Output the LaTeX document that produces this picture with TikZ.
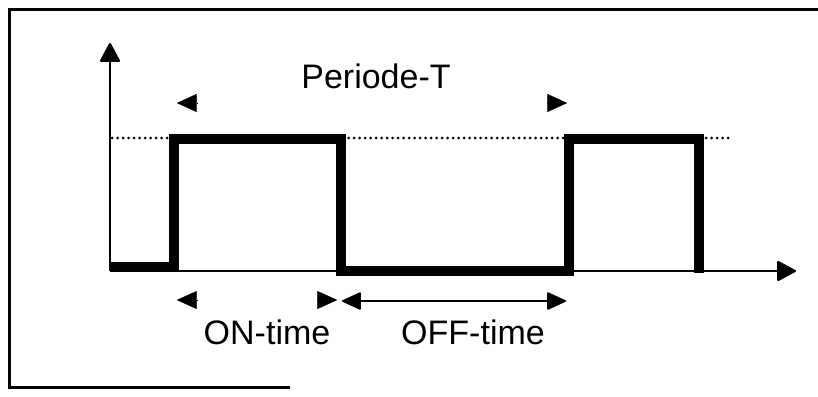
\documentclass[tikz,border=0pt]{standalone}
\usepackage{fontspec}
\setmainfont{Liberation Sans}
\usetikzlibrary{arrows.meta}
\begin{document}
\begin{tikzpicture}[x=1pt,y=-1pt,
  tipend/.style={-{Triangle[length=20pt,width=18pt,round]}},
  both/.style={line width=1.6pt,{Triangle[length=20pt,width=18pt,round]}-{Triangle[length=20pt,width=18pt,round]}},
  lbl/.style={font=\fontsize{34}{40}\selectfont, inner sep=0pt, anchor=base},
  signal/.style={line width=10.5pt, line join=miter},
  axis/.style={line width=2pt, -{Triangle[length=20pt,width=21pt,round]}},
  guide/.style={line width=3pt, line cap=round, dash pattern=on 0pt off 5.5pt},
  frame/.style={line width=3pt}
  ]
\useasboundingbox (0,0) rectangle (818,396);
% frame
\coordinate (fTR) at (818,10);
\coordinate (fTL) at (9,10);
\coordinate (fBL) at (9,387);
\coordinate (fBR) at (290,387);
\draw[frame] (fTR) -- (fTL) -- (fBL) -- (fBR);
% axes
\coordinate (O) at (110,271);
\coordinate (Ytip) at (110,43);
\coordinate (Xtip) at (796,271);
\draw[axis] (O) -- (Ytip);
\draw[axis] (O) -- (Xtip);
% dotted high level
\coordinate (d1) at (112,138);
\coordinate (d2) at (730,138);
\draw[guide] (d1) -- (d2);
% signal
\coordinate (s0) at (110,267);
\coordinate (s1) at (174,267);
\coordinate (s2) at (174,139);
\coordinate (s3) at (341,139);
\coordinate (s4) at (341,271);
\coordinate (s5) at (569,271);
\coordinate (s6) at (569,139);
\coordinate (s7) at (699,139);
\coordinate (s8) at (699,273);
\draw[signal] (s0) -- (s1) -- (s2) -- (s3) -- (s4) -- (s5) -- (s6) -- (s7) -- (s8);
% period markers
\coordinate (pLa) at (197,103);
\coordinate (pLb) at (177,103);
\coordinate (pRa) at (547,103);
\coordinate (pRb) at (567,103);
\draw[tipend] (pLa) -- (pLb);
\draw[tipend] (pRa) -- (pRb);
% ON-time markers
\coordinate (oLa) at (197,300);
\coordinate (oLb) at (177,300);
\coordinate (oRa) at (317,300);
\coordinate (oRb) at (337,300);
\draw[tipend] (oLa) -- (oLb);
\draw[tipend] (oRa) -- (oRb);
% OFF-time arrow
\coordinate (fL) at (342,301);
\coordinate (fR) at (566,301);
\draw[both] (fL) -- (fR);
% labels
\node[lbl] (period) at (376,88) {Periode-T};
\node[lbl] (on) at (267,344) {ON-time};
\node[lbl] (off) at (473,344) {OFF-time};
\end{tikzpicture}
\end{document}
